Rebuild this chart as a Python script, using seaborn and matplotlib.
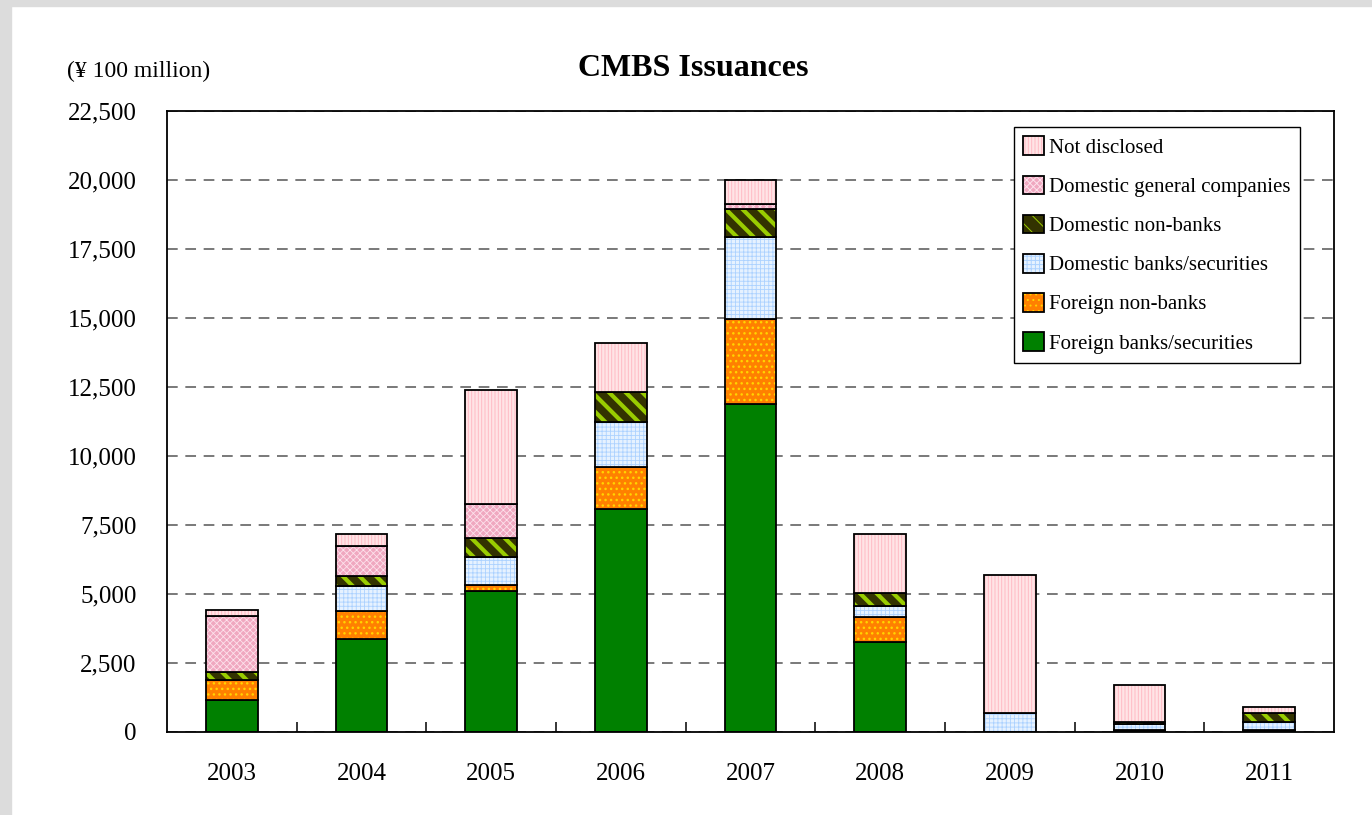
import numpy as np
import matplotlib
matplotlib.use('Agg')
import matplotlib.pyplot as plt
from matplotlib.patches import Patch, Rectangle
from matplotlib.ticker import FuncFormatter, FixedLocator
import seaborn as sns

years = ['2003', '2004', '2005', '2006', '2007', '2008', '2009', '2010', '2011']
foreign_banks = [1150, 3370, 5110, 8070, 11870, 3260, 0, 90, 60]
foreign_nonbanks = [725, 1010, 215, 1545, 3090, 905, 0, 0, 0]
domestic_banks = [0, 915, 1005, 1630, 2980, 390, 680, 195, 290]
domestic_nonbanks = [310, 340, 700, 1085, 1015, 495, 0, 60, 355]
domestic_general = [2005, 1100, 1245, 0, 160, 0, 0, 0, 0]
not_disclosed = [215, 445, 4110, 1750, 880, 2140, 5020, 1345, 190]

# values, label, face, hatch, hatch colour, hatch linewidth
layers = [
    (foreign_banks, 'Foreign banks/securities', '#008000', None, '#008000', 1.0),
    (foreign_nonbanks, 'Foreign non-banks', '#ff8000', '...', '#ffd400', 1.0),
    (domestic_banks, 'Domestic banks/securities', '#e6f2ff', '++++', '#acd2ff', 0.6),
    (domestic_nonbanks, 'Domestic non-banks', '#333300', '\\\\', '#99cc00', 3.0),
    (domestic_general, 'Domestic general companies', '#f0a8c0', 'xxxxx', '#fde2ec', 0.6),
    (not_disclosed, 'Not disclosed', '#ffe4e6', '|||||', '#ffbac4', 0.7),
]

plt.rcParams['font.family'] = ['Liberation Serif', 'DejaVu Serif']
plt.rcParams['hatch.linewidth'] = 0.7

fig = plt.figure(figsize=(13.72, 8.15), dpi=100)
fig.patches.append(Rectangle((0, 0), 11 / 1372, 1, transform=fig.transFigure,
                             color='#dcdcdc', zorder=-10))
fig.patches.append(Rectangle((0, 1 - 6 / 815), 1, 6 / 815, transform=fig.transFigure,
                             color='#dcdcdc', zorder=-10))
ax = fig.add_axes([167 / 1372, 1 - 732 / 815, 1167 / 1372, 621 / 815])

bottom = np.zeros(len(years))
handles = []
for vals, label, fc, hatch, hc, hlw in layers:
    n0 = len(ax.patches)
    sns.barplot(x=years, y=vals, bottom=bottom, color=fc, saturation=1, width=0.4,
                errorbar=None, edgecolor=hc, linewidth=0, hatch=hatch, ax=ax)
    for p in ax.patches[n0:]:
        if hasattr(p, 'set_hatch_linewidth'):
            p.set_hatch_linewidth(hlw)
    sns.barplot(x=years, y=vals, bottom=bottom, color='black', facecolor='none',
                edgecolor='black', linewidth=1.3, width=0.4, errorbar=None, ax=ax)
    bottom = bottom + np.array(vals)
    hp = Patch(facecolor=fc, edgecolor=hc, hatch=hatch, linewidth=0)
    if hasattr(hp, 'set_hatch_linewidth'):
        hp.set_hatch_linewidth(hlw)
    handles.append((hp, Patch(facecolor='none', edgecolor='black', linewidth=1.3)))

ax.set_ylim(0, 22500)
ax.set_xlim(-0.5, 8.5)
ax.set_yticks(np.arange(0, 22501, 2500))
ax.yaxis.set_major_formatter(FuncFormatter(lambda v, p: f'{int(v):,}'))
ax.set_axisbelow(True)
ax.yaxis.grid(True, linestyle=(0, (7, 5)), color='#555555', linewidth=1.1)
ax.tick_params(axis='y', length=0, pad=22, labelsize=18)
ax.tick_params(axis='x', which='major', length=0, pad=22, labelsize=18)
ax.xaxis.set_minor_locator(FixedLocator(np.arange(0.5, 8, 1)))
ax.tick_params(axis='x', which='minor', direction='in', length=7, width=1.1)
ax.set_xlabel('')
ax.set_ylabel('')
for s in ax.spines.values():
    s.set_linewidth(1.3)
    s.set_color('black')

labels = [l[1] for l in layers]
leg = ax.legend(handles[::-1], labels[::-1], loc='upper right',
                bbox_to_anchor=((1300 - 167) / 1167, (732 - 127) / 621), borderaxespad=0,
                fontsize=15, handlelength=1.0, handleheight=1.0, handletextpad=0.25,
                labelspacing=0.85, borderpad=0.45, fancybox=False, framealpha=1,
                edgecolor='black')
leg.get_frame().set_linewidth(1.0)

fig.text(693 / 1372, 1 - 68 / 815, 'CMBS Issuances', ha='center', va='center',
         fontsize=23, fontweight='bold')
fig.text(67 / 1372, 1 - 71 / 815, '(¥ 100 million)', ha='left', va='center', fontsize=17)

fig.savefig('out.png', dpi=100)
